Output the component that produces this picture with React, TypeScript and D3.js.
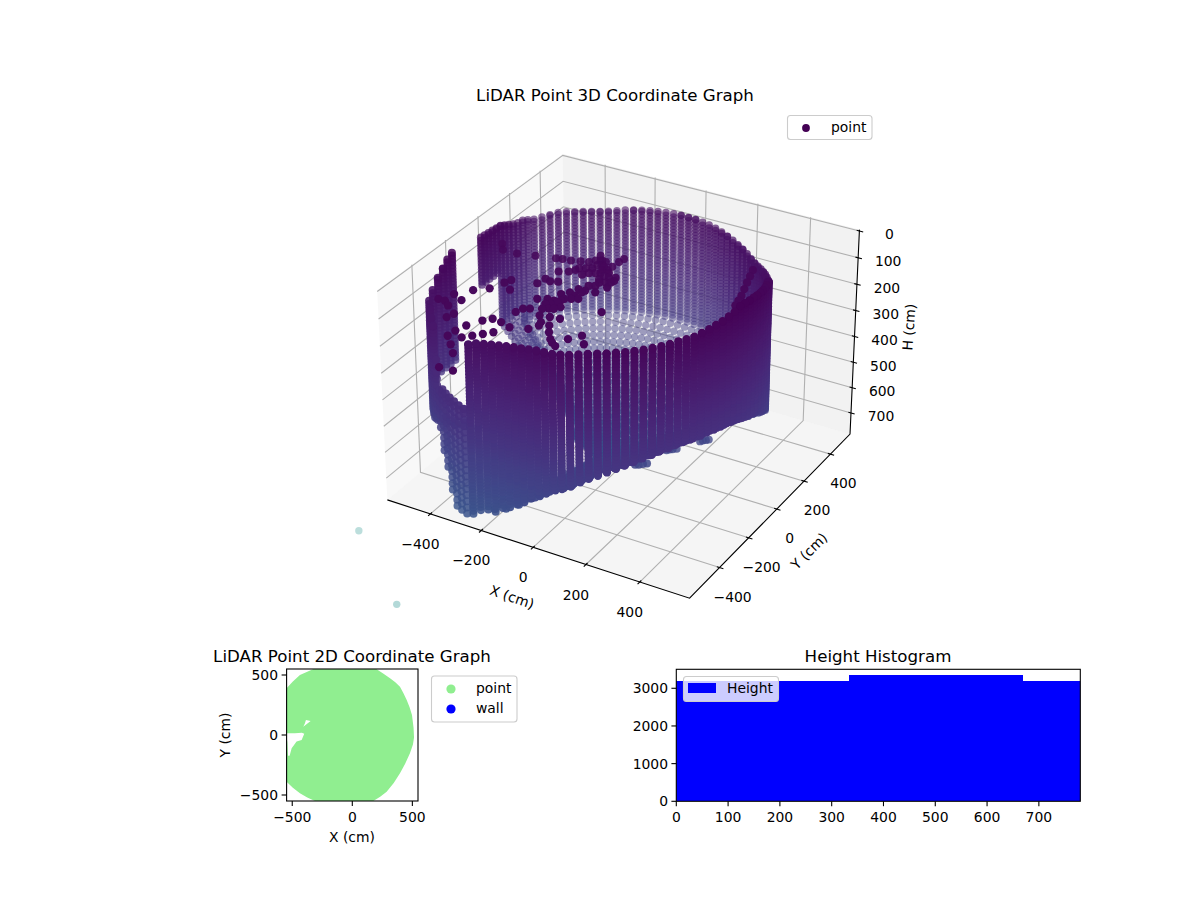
import * as React from "react";
import * as d3 from "d3";

// ---- values ----
const columnAngle = [0,3,6,9,12,15,18,21,24,27,30,33,36,39,42,45,48,51,54,57,60,63,66,69,72,75,78,81,84,87,90,93,96,99,102,105,108,111,114,117,120,123,126,129,132,135,138,141,144,147,150,153,156,159,162,165,168,171,174,177,180,183,186,189,192,195,198,201,204,207,210,213,216,219,222,225,228,231,234,237,240,243,246,249,252,255,258,261,264,267,270,273,276,279,282,285,288,291,294,297,300,303,306,309,312,315,318,321,324,327,330,333,336,339,342,345,348,351,354,357];
const wallRadius = [561,561,561,561,561,561,561,561,561,561,561,561,561,561,561,561,561,561,561,561,561,561,561,561,561,561,561,561,561,561,561,561,561,561,561,561,561,561,561,561,561,561,561,561,561,561,561,561,561,548,531,516,504,493,484,476,470,466,463,461,460,461,463,466,470,476,484,493,504,516,531,548,561,561,561,561,561,561,561,561,561,561,561,561,557,549,542,537,533,531,530,531,533,537,542,549,557,561,561,561,561,561,561,561,561,561,561,561,561,561,561,561,561,561,561,561,561,561,561,561];
const rimHeight = [22,26,32,38,44,50,55,62,75,90,105,115,120,125,130,135,140,142,140,135,131,127,123,119,115,111,109,108,107,107,107,108,109,111,113,115,118,121,125,128,130,129,128,127,125,124,128,132,135,125,112,108,100,90,80,70,68,66,64,62,60,700,700,700,700,700,700,38,50,70,90,120,144,160,175,190,300,400,380,380,380,380,380,380,130,118,112,106,101,96,92,88,84,80,78,76,70,66,62,59,58,57,56,56,55,54,53,52,50,48,48,48,44,40,36,33,28,24,16,18];
const wallBreak = [452,463,470,477,495,514,527,540,560,580,590,580,570,560,550,540,530,525,520,520,520,520,520,520,520,520,520,520,520,520,520,520,520,520,520,520,520,520,520,520,520,520,520,520,520,520,520,520,520,520,520,450,450,450,450,450,400,400,400,400,400,400,400,400,400,400,400,560,560,560,560,560,560,560,560,540,500,560,620,680,740,780,780,780,770,752,742,732,718,702,682,661,641,621,601,582,566,550,533,517,504,492,481,471,461,451,443,436,430,425,423,422,420,418,419,421,424,428,434,442];
const wallEnd = [780,780,780,780,780,780,780,780,780,780,780,780,780,780,780,780,780,780,780,780,780,780,780,780,780,780,780,780,780,780,780,780,780,780,780,780,780,780,780,780,780,780,780,780,780,780,780,780,780,780,780,780,780,780,780,780,250,250,250,250,250,780,780,780,780,780,780,450,450,450,450,450,560,600,600,600,500,560,620,680,740,780,780,780,780,780,780,780,780,780,780,780,780,780,780,780,780,780,780,780,780,780,780,780,780,780,780,780,780,780,780,780,780,780,780,780,780,780,780,780];
const rowStride = [1,1,1,1,1,1,1,1,1,1,1,1,1,1,1,1,1,1,1,1,1,1,1,1,1,1,1,1,1,1,1,1,1,1,1,1,1,1,1,1,1,1,1,1,1,1,1,1,1,1,1,1,1,1,1,1,1,1,1,1,1,1,1,1,1,1,1,1,1,1,1,1,1,1,1,1,2,2,2,2,2,2,2,2,1,1,1,1,1,1,1,1,1,1,1,1,1,1,1,1,1,1,1,1,1,1,1,1,1,1,1,1,1,1,1,1,1,1,1,1];
const rowHeights = [12,24,36,48,60,72,84,96,108,120,132,144,156,168,180,192,204,216,228,240,252,264,276,288,300,312,324,336,348,360,372,384,396,408,420,432,444,456,468,480,492,504,516,528,540,552,564,576,588,600,612,624,636,648,660,672,684,696,708,720,732,744,756,768,780];

// the apex of the lower funnel, cm
const centerX = -90;
const centerY = -20;
const bottomHeight = 780;

// loose returns inside the tank
const looseX = [-46,-49,-52,-102,-124,-121,-135,-162,-192,-222,-244,-69,-141,-159,-188,-42,-45,3,-16,-33,-45,-57,-75,-98,-111,-151,-85,74,-453,-428,-373,-311,-362,-322,-358,-301,-291,-260,-206,-199,-177,-153,-156,-137,-165,-87,-53,-19,-72,-54,-4,39,59,71,98,131,-330,-338,-254,-227,-205,-170,-129,-156,-179,-202,-225,-266,-269,-231,-195,-184,-135,-427,-403,-376,-401,-107,-87,-75,-39,-100,-103,-122,-145,-49,-82,-101,-83,-97,-122,-79,-69,-52,-34,-23,6,-1,360,372,384,397,410,417,424,-86,-55,-63,-77,-96,-110,-4,-11,-56,-36,-103,-70,-57,-60,23,-26];
const looseY = [71,43,4,25,51,14,-6,-15,-27,-31,-37,-32,-60,-96,-113,-67,-94,-79,-102,-138,-183,-228,-263,-290,-323,-307,-345,-280,-38,-74,-74,-57,-361,-324,-437,-267,-241,-299,-217,-177,-185,-174,-386,-375,-416,-397,-390,-384,-490,-455,-476,-528,-542,-484,-443,-487,-525,-555,-570,-517,-491,-496,-511,-564,-590,-616,-642,-615,-655,-696,-739,-834,-831,-467,-466,-488,-414,22,22,-10,-40,-11,-38,-49,-76,-198,-217,-241,-294,-314,-291,-279,-184,-149,-113,-68,-129,-94,215,172,129,85,41,7,-27,-3,-24,-54,-62,-73,-93,-57,-176,-252,-241,-356,-337,-317,-433,-512,-438];
const looseH = looseX.map(() => 50);

// lumps under the funnel and far strays
const lumpX = [180,170,190,160,212,220,230,205,288,295,280,275,60];
const lumpY = [-195,-205,-185,-212,-71,-65,-55,-80,42,50,35,25,-365];
const lumpH = [630,630,630,630,630,630,630,630,630,630,630,630,630];
const strayX = [-1202,-810,-1145];
const strayY = [88,-241,635];
const strayH = [1500,1500,1500];

const xTicks3d = [-400,-200,0,200,400];
const yTicks3d = [-400,-200,0,200,400];
const hTicks3d = [0,100,200,300,400,500,600,700];

// outline of the 2D cloud, cm
const cloudOutline: [number, number][] = [[514,-20],[510,60],[497,167],[477,232],[453,292],[425,350],[397,403],[358,440],[314,472],[260,510],[203,547],[203,600],[-311,600],[-311,555],[-375,528],[-436,500],[-495,445],[-547,389],[-547,14],[-478,14],[-420,18],[-400,10],[-422,-42],[-464,-55],[-505,-111],[-522,-172],[-535,-172],[-540,-60],[-547,-20],[-547,-389],[-495,-440],[-436,-486],[-375,-520],[-311,-550],[-311,-600],[175,-600],[175,-550],[232,-515],[286,-472],[345,-400],[397,-319],[440,-240],[480,-153],[505,-80]];
const cloudNotch: [number, number][] = [[-408,69],[-347,117],[-386,125],[-395,95]];
const ticks2d = [-500,0,500];

const histEdges = [0,334,669,1003];
const histCounts = [3190,3353,3190];
const histXTicks = [0,100,200,300,400,500,600,700];
const histYTicks = [0,1000,2000,3000];

// ---- 3D projection, elev 30 azim -60 ----
const halfXY = 0.6;
const halfH = 0.415;
const xBox = d3.scaleLinear().domain([-572, 582]).range([-halfXY, halfXY]);
const yBox = d3.scaleLinear().domain([-600, 552]).range([-halfXY, halfXY]);
const hBox = d3.scaleLinear().domain([785, -5]).range([-halfH, halfH]);
const xLo = xBox.domain()[0], xHi = xBox.domain()[1];
const yLo = yBox.domain()[0], yHi = yBox.domain()[1];
const hBottom = hBox.domain()[0], hTop = hBox.domain()[1];
const screenX = d3.scaleLinear().domain([-1, 1]).range([623 - 288, 623 + 288]);
const screenY = d3.scaleLinear().domain([-1, 1]).range([365 + 288, 365 - 288]);
const viewDist = 10;

function project(x: number, y: number, h: number) {
  const bx = xBox(x), by = yBox(y), bz = hBox(h);
  const xv = 0.866 * bx + 0.5 * by;
  const yv = -0.25 * bx + 0.433 * by + 0.866 * bz;
  const zv = 0.433 * bx - 0.75 * by + 0.5 * bz;
  const f = viewDist / (viewDist - zv);
  return { sx: screenX(xv * f), sy: screenY(yv * f), depth: zv };
}

type Pt = { x: number; y: number; h: number };
const cloud: Pt[] = [];
columnAngle.forEach((deg, i) => {
  const a = (deg * Math.PI) / 180;
  const rim = rimHeight[i];
  const heights = [rim, ...rowHeights.filter((h, k) => h > rim && h <= wallEnd[i] && k % rowStride[i] === 0)];
  heights.forEach((h) => {
    const r = h <= wallBreak[i] ? wallRadius[i] : (wallRadius[i] * (bottomHeight - h)) / (bottomHeight - wallBreak[i]);
    cloud.push({ x: centerX + r * Math.cos(a), y: centerY + r * Math.sin(a), h });
  });
});
looseX.forEach((x, i) => cloud.push({ x, y: looseY[i], h: looseH[i] }));
lumpX.forEach((x, i) => cloud.push({ x, y: lumpY[i], h: lumpH[i] }));
strayX.forEach((x, i) => cloud.push({ x, y: strayY[i], h: strayH[i] }));

const projected = cloud
  .map((p) => ({ ...project(p.x, p.y, p.h), h: p.h }))
  .sort((a, b) => d3.ascending(a.depth, b.depth));
const depthAlpha = d3.scaleLinear().domain([-0.85, 0.3]).range([0.3, 1]).clamp(true);
const depthRadius = d3.scaleLinear().domain([-0.4, 0.3]).range([3.7, 4.15]).clamp(true);
const colorT = d3.scaleLinear().domain([0, 3000]).range([0, 1]);

const FONT = "DejaVu Sans, sans-serif";
const GRID = "#b0b0b0";

function seg(a: [number, number, number], ...rest: [number, number, number][]) {
  return [a, ...rest]
    .map((p, i) => {
      const q = project(p[0], p[1], p[2]);
      return `${i ? "L" : "M"}${q.sx},${q.sy}`;
    })
    .join("");
}

function Plot3D() {
  return (
    <g fontFamily={FONT} fontSize={13.9} fill="#000">
      <path d={seg([xLo, yLo, hBottom], [xLo, yHi, hBottom], [xLo, yHi, hTop], [xLo, yLo, hTop]) + "Z"} fill="rgb(242,242,242)" fillOpacity={0.5} />
      <path d={seg([xLo, yHi, hBottom], [xHi, yHi, hBottom], [xHi, yHi, hTop], [xLo, yHi, hTop]) + "Z"} fill="rgb(230,230,230)" fillOpacity={0.5} />
      <path d={seg([xLo, yLo, hBottom], [xHi, yLo, hBottom], [xHi, yHi, hBottom], [xLo, yHi, hBottom]) + "Z"} fill="rgb(236,236,236)" fillOpacity={0.5} />
      <g fill="none" stroke={GRID} strokeWidth={1.1}>
        {xTicks3d.map((t) => <path key={t} d={seg([t, yLo, hBottom], [t, yHi, hBottom], [t, yHi, hTop])} />)}
        {yTicks3d.map((t) => <path key={t} d={seg([xHi, t, hBottom], [xLo, t, hBottom], [xLo, t, hTop])} />)}
        {hTicks3d.map((t) => <path key={t} d={seg([xLo, yLo, t], [xLo, yHi, t], [xHi, yHi, t])} />)}
      </g>
      <g fill="none" stroke="#000" strokeWidth={1.1}>
        <path d={seg([xLo, yLo, hBottom], [xHi, yLo, hBottom], [xHi, yHi, hBottom], [xHi, yHi, hTop])} />
        {xTicks3d.map((t) => <path key={t} d={seg([t, yLo - 14, hBottom], [t, yLo + 10, hBottom])} />)}
        {yTicks3d.map((t) => <path key={t} d={seg([xHi + 14, t, hBottom], [xHi - 10, t, hBottom])} />)}
        {hTicks3d.map((t) => <path key={t} d={seg([xHi - 10, yHi, t], [xHi + 14, yHi, t])} />)}
      </g>
      {projected.map((d, i) => (
        <circle key={i} cx={d.sx} cy={d.sy} r={depthRadius(d.depth)} fill={d3.interpolateViridis(colorT(d.h))} fillOpacity={depthAlpha(d.depth)} />
      ))}
      {xTicks3d.map((t) => {
        const q = project(t, yLo, hBottom);
        return <text key={t} x={q.sx - 10} y={q.sy + 30} textAnchor="middle" dominantBaseline="central">{d3.format("d")(t).replace("-", "\u2212")}</text>;
      })}
      {yTicks3d.map((t) => {
        const q = project(xHi, t, hBottom);
        return <text key={t} x={q.sx + 13} y={q.sy + 29} textAnchor="middle" dominantBaseline="central">{d3.format("d")(t).replace("-", "\u2212")}</text>;
      })}
      {hTicks3d.map((t) => {
        const q = project(xHi, yHi, t);
        return <text key={t} x={q.sx + 30} y={q.sy + 3.5} textAnchor="middle" dominantBaseline="central">{t}</text>;
      })}
      <text transform="translate(512,597) rotate(19)" textAnchor="middle" dominantBaseline="central">X (cm)</text>
      <text transform="translate(809,551) rotate(-45)" textAnchor="middle" dominantBaseline="central">Y (cm)</text>
      <text transform="translate(909,327) rotate(-86)" textAnchor="middle" dominantBaseline="central">H (cm)</text>
      <text x={615} y={95} fontSize={16.67} textAnchor="middle" dominantBaseline="central">LiDAR Point 3D Coordinate Graph</text>
      <rect x={787.5} y={115.5} width={84.5} height={24} rx={3} fill="#fff" fillOpacity={0.8} stroke="#ccc" strokeWidth={1.1} />
      <circle cx={806} cy={128} r={3.9} fill={d3.interpolateViridis(0)} />
      <text x={831} y={127} dominantBaseline="central">point</text>
    </g>
  );
}

function Plot2D() {
  const x = d3.scaleLinear().domain([-547, 547]).range([286.6, 418]);
  const y = d3.scaleLinear().domain([-550, 550]).range([801, 669]);
  const line = d3.line<[number, number]>().x((d) => x(d[0])).y((d) => y(d[1]));
  return (
    <g fontFamily={FONT} fontSize={13.9} fill="#000">
      <clipPath id="clip2d"><rect x={286.6} y={669} width={131.4} height={132} /></clipPath>
      <path d={`${line(cloudOutline)}Z${line(cloudNotch)}Z`} fill="#90ee90" fillRule="evenodd" clipPath="url(#clip2d)" />
      <rect x={286.6} y={669} width={131.4} height={132} fill="none" stroke="#000" strokeWidth={1.1} />
      {ticks2d.map((t) => (
        <g key={t}>
          <line x1={x(t)} x2={x(t)} y1={801} y2={806} stroke="#000" strokeWidth={1.1} />
          <text x={x(t)} y={817} textAnchor="middle" dominantBaseline="central">{d3.format("d")(t).replace("-", "\u2212")}</text>
          <line x1={286.6} x2={281.6} y1={y(t)} y2={y(t)} stroke="#000" strokeWidth={1.1} />
          <text x={278} y={y(t)} textAnchor="end" dominantBaseline="central">{d3.format("d")(t).replace("-", "\u2212")}</text>
        </g>
      ))}
      <text x={352} y={837} textAnchor="middle" dominantBaseline="central">X (cm)</text>
      <text transform="translate(225,735) rotate(-90)" textAnchor="middle" dominantBaseline="central">Y (cm)</text>
      <text x={352} y={656} fontSize={16.67} textAnchor="middle" dominantBaseline="central">LiDAR Point 2D Coordinate Graph</text>
      <rect x={431.5} y={676} width={85.5} height={46} rx={3} fill="#fff" fillOpacity={0.8} stroke="#ccc" strokeWidth={1.1} />
      <circle cx={451} cy={689} r={4.6} fill="#90ee90" />
      <circle cx={451} cy={709} r={4.6} fill="#0000ff" />
      <text x={476} y={688} dominantBaseline="central">point</text>
      <text x={476} y={708} dominantBaseline="central">wall</text>
    </g>
  );
}

function PlotHist() {
  const x = d3.scaleLinear().domain([0, 780]).range([676.3, 1080.3]);
  const y = d3.scaleLinear().domain([0, 3504]).range([801.3, 669.3]);
  return (
    <g fontFamily={FONT} fontSize={13.9} fill="#000">
      <clipPath id="cliphist"><rect x={676.3} y={669.3} width={404} height={132} /></clipPath>
      <g clipPath="url(#cliphist)" shapeRendering="crispEdges">
        {histCounts.map((c, i) => (
          <rect key={i} x={x(histEdges[i])} width={x(histEdges[i + 1]) - x(histEdges[i])} y={y(c)} height={y(0) - y(c)} fill="#0000ff" />
        ))}
      </g>
      <rect x={676.3} y={669.3} width={404} height={132} fill="none" stroke="#000" strokeWidth={1.1} />
      {histXTicks.map((t) => (
        <g key={t}>
          <line x1={x(t)} x2={x(t)} y1={801.3} y2={806.2} stroke="#000" strokeWidth={1.1} />
          <text x={x(t)} y={817} textAnchor="middle" dominantBaseline="central">{t}</text>
        </g>
      ))}
      {histYTicks.map((t) => (
        <g key={t}>
          <line x1={676.3} x2={671.4} y1={y(t)} y2={y(t)} stroke="#000" strokeWidth={1.1} />
          <text x={668} y={y(t)} textAnchor="end" dominantBaseline="central">{t}</text>
        </g>
      ))}
      <text x={878} y={656} fontSize={16.67} textAnchor="middle" dominantBaseline="central">Height Histogram</text>
      <rect x={683.5} y={676.5} width={95} height={25} rx={3} fill="#fff" fillOpacity={0.8} stroke="#ccc" strokeWidth={1.1} />
      <rect x={688} y={683} width={28} height={10} fill="#0000ff" />
      <text x={727} y={688} dominantBaseline="central">Height</text>
    </g>
  );
}

export default function App() {
  return (
    <svg width={1200} height={900} style={{ position: "absolute", left: 0, top: 0, background: "#fff" }}>
      <Plot3D />
      <Plot2D />
      <PlotHist />
    </svg>
  );
}
